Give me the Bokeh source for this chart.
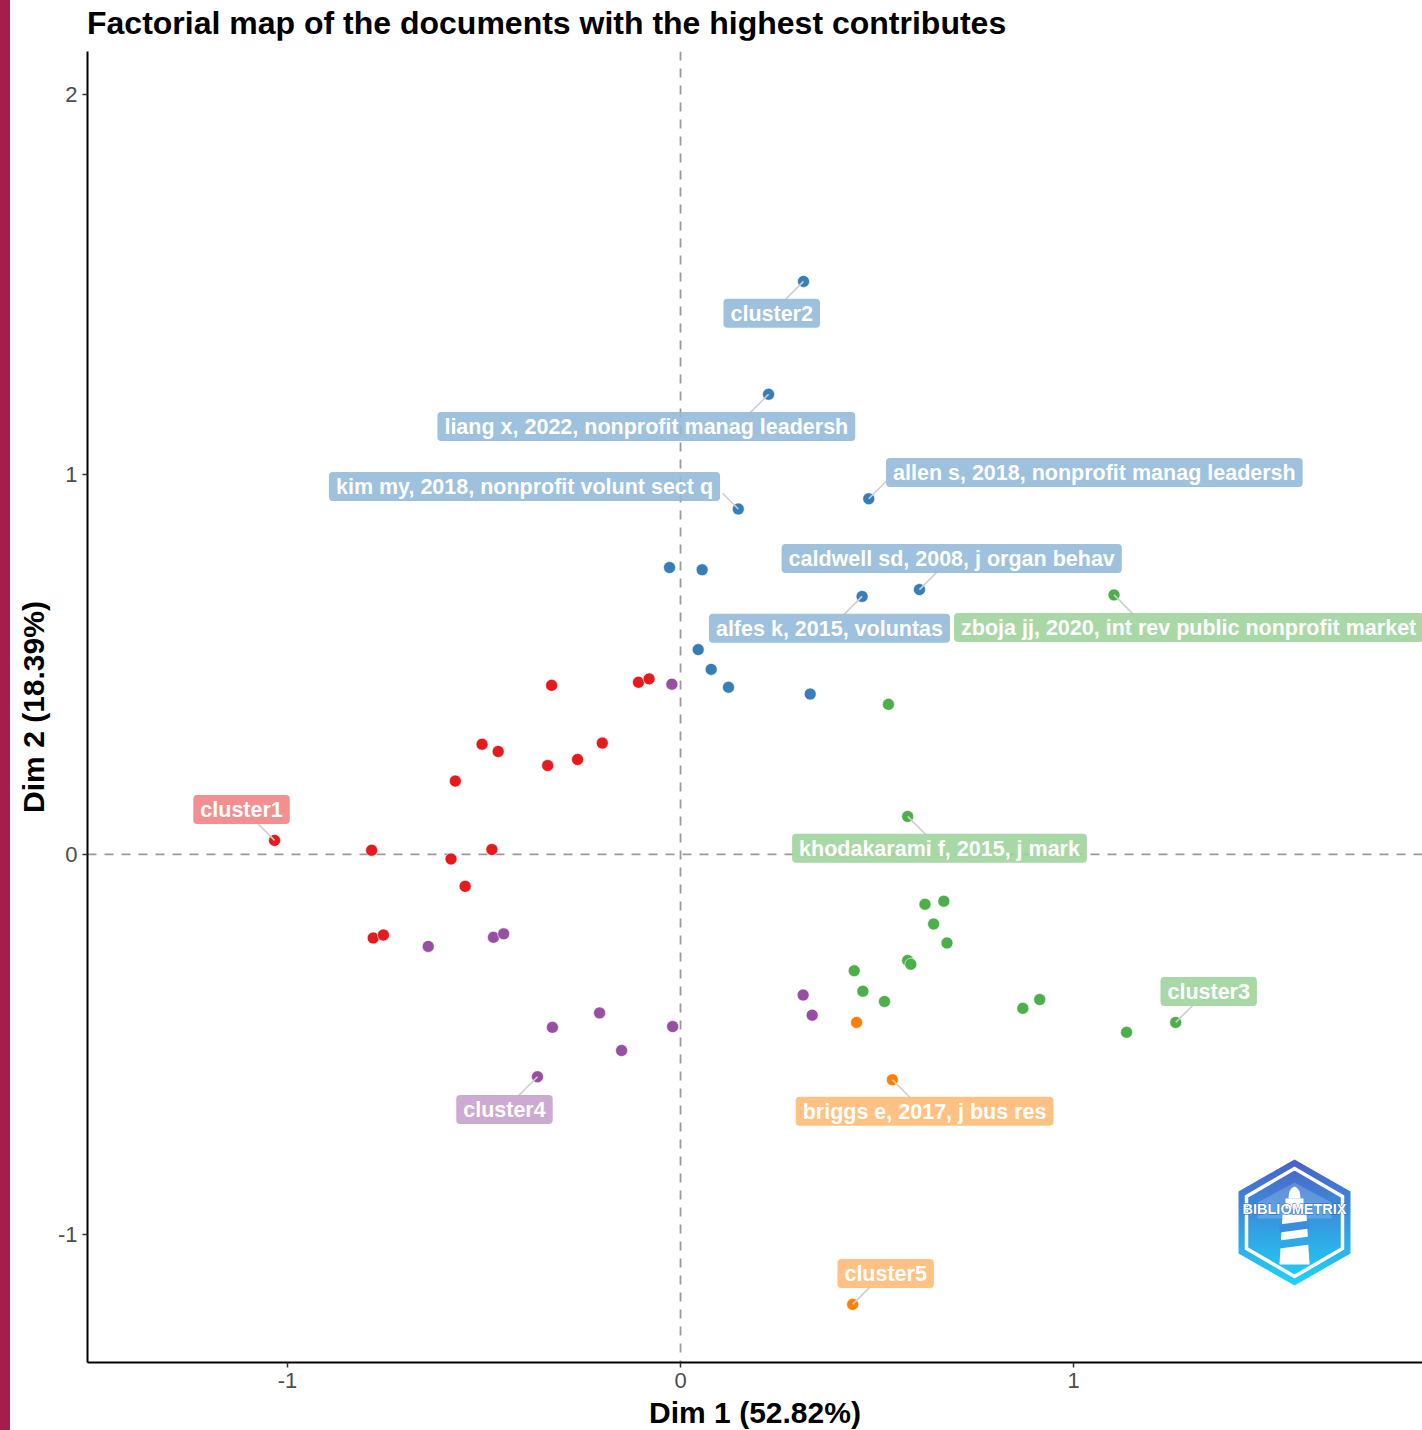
import base64
from bokeh.plotting import figure
from bokeh.models import Range1d, Span, ColumnDataSource, FixedTicker, Div, PrintfTickFormatter
from bokeh.layouts import row, column
from bokeh.embed import file_html
from bokeh.resources import INLINE
from bokeh.core.properties import value

# ---------------- data ----------------
c1_x = [-1.033, -0.786, -0.584, -0.480, -0.548, -0.782, -0.756, -0.573, -0.505, -0.464, -0.338, -0.262, -0.199, -0.328, -0.107, -0.080]
c1_y = [0.037, 0.011, -0.012, 0.013, -0.084, -0.220, -0.212, 0.193, 0.290, 0.271, 0.234, 0.250, 0.293, 0.445, 0.453, 0.462]

c2_x = [0.313, 0.224, 0.147, 0.479, -0.028, 0.055, 0.608, 0.462, 0.045, 0.078, 0.122, 0.330]
c2_y = [1.508, 1.211, 0.909, 0.936, 0.755, 0.749, 0.697, 0.679, 0.539, 0.487, 0.440, 0.422]

c3_x = [1.103, 0.529, 0.578, 0.622, 0.670, 0.644, 0.678, 0.578, 0.586, 0.442, 0.464, 0.519, 0.871, 0.914, 1.135, 1.260]
c3_y = [0.683, 0.395, 0.100, -0.131, -0.123, -0.183, -0.233, -0.279, -0.289, -0.306, -0.360, -0.387, -0.405, -0.382, -0.468, -0.442]

c4_x = [-0.022, -0.642, -0.476, -0.450, -0.326, -0.206, -0.020, -0.150, -0.364, 0.312, 0.335]
c4_y = [0.448, -0.242, -0.218, -0.209, -0.455, -0.417, -0.453, -0.516, -0.585, -0.370, -0.423]

c5_x = [0.448, 0.539, 0.438]
c5_y = [-0.442, -0.593, -1.184]

cluster_names = ["cluster1", "cluster2", "cluster3", "cluster4", "cluster5"]

# labels: text, cluster number, index of the labelled point, label centre
label_text = ["cluster1", "cluster2", "liang x, 2022, nonprofit manag leadersh",
              "kim my, 2018, nonprofit volunt sect q", "allen s, 2018, nonprofit manag leadersh",
              "caldwell sd, 2008, j organ behav", "alfes k, 2015, voluntas",
              "zboja jj, 2020, int rev public nonprofit market", "khodakarami f, 2015, j mark",
              "cluster3", "cluster4", "briggs e, 2017, j bus res", "cluster5"]
label_cluster = [1, 2, 2, 2, 2, 2, 2, 3, 3, 3, 4, 5, 5]
label_point = [0, 0, 1, 2, 3, 6, 7, 0, 2, 15, 8, 1, 2]
label_x = [-1.117, 0.232, -0.087, -0.397, 1.053, 0.690, 0.379, 1.293, 0.659, 1.344, -0.448, 0.621, 0.522]
label_y = [0.118, 1.424, 1.126, 0.968, 1.005, 0.779, 0.595, 0.597, 0.016, -0.361, -0.671, -0.676, -1.103]

x_ticks = [-1, 0, 1]
y_ticks = [-1, 0, 1, 2]
x_label = "Dim 1 (52.82%)"
y_label = "Dim 2 (18.39%)"
title = "Factorial map of the documents with the highest contributes"

# ---------------- style ----------------
colors = ["#E41A1C", "#377EB8", "#4DAF4A", "#984EA3", "#FF7F00"]
FONT = "Liberation Sans"
FRAME_W, FRAME_H = 1335, 1311
X0, X1 = -1.509, 1.888
Y0, Y1 = -1.337, 2.113
BAR_W = 10
TITLE_H = 40


def lighten(hexcol, a):
    r, g, b = int(hexcol[1:3], 16), int(hexcol[3:5], 16), int(hexcol[5:7], 16)
    f = lambda c: int(round(255 * (1 - a) + c * a))
    return "#%02x%02x%02x" % (f(r), f(g), f(b))


p = figure(width=1422 - BAR_W, height=1430 - TITLE_H, frame_width=FRAME_W, frame_height=FRAME_H,
           x_range=Range1d(X0, X1), y_range=Range1d(Y0, Y1),
           output_backend="svg", toolbar_location=None,
           min_border_left=87 - BAR_W, min_border_right=0, min_border_top=51 - TITLE_H,
           min_border_bottom=68)
p.outline_line_color = None
p.xgrid.visible = False
p.ygrid.visible = False
p.background_fill_color = "white"
p.border_fill_color = "white"

for ax, lab in ((p.xaxis[0], x_label), (p.yaxis[0], y_label)):
    ax.axis_label = lab
    ax.axis_label_text_font = FONT
    ax.axis_label_text_font_size = "30px"
    ax.axis_label_text_font_style = "bold"
    ax.axis_label_text_color = "black"
    ax.axis_line_color = "black"
    ax.axis_line_width = 2
    ax.major_tick_line_color = "#333333"
    ax.major_tick_line_width = 1.5
    ax.major_tick_out = 5
    ax.major_tick_in = 0
    ax.minor_tick_line_color = None
    ax.major_label_text_font = FONT
    ax.major_label_text_font_size = "22px"
    ax.major_label_text_color = "#4D4D4D"
    ax.major_label_standoff = 5
    ax.axis_label_standoff = 5
    ax.formatter = PrintfTickFormatter(format="%d")
p.xaxis[0].ticker = FixedTicker(ticks=x_ticks)
p.yaxis[0].ticker = FixedTicker(ticks=y_ticks)

# reference lines at 0 (under everything)
for dim in ("height", "width"):
    p.add_layout(Span(location=0, dimension=dim, line_color="#9a9a9a", line_width=1.8,
                      line_dash="9 8", level="underlay"))

# points
all_x = [c1_x, c2_x, c3_x, c4_x, c5_x]
all_y = [c1_y, c2_y, c3_y, c4_y, c5_y]
for xs, ys, col in zip(all_x, all_y, colors):
    p.scatter(xs, ys, size=12, fill_color=col, line_color="white", line_width=0.6)

# label segments: diagonal from the point until it meets the label box
px_per_x = FRAME_W / (X1 - X0)
px_per_y = FRAME_H / (Y1 - Y0)
sx0, sy0, sx1, sy1 = [], [], [], []
for t, c, i, lx, ly in zip(label_text, label_cluster, label_point, label_x, label_y):
    ptx, pty = all_x[c - 1][i], all_y[c - 1][i]
    dxp = (lx - ptx) * px_per_x
    dyp = (ly - pty) * px_per_y
    half_w = len(t) * 10.3 / 2 + 7.5
    half_h = 13.5
    d = max(max(0.0, abs(dxp) - half_w), max(0.0, abs(dyp) - half_h))
    ex = ptx + (1 if dxp > 0 else -1) * d / px_per_x
    ey = pty + (1 if dyp > 0 else -1) * d / px_per_y
    sx0.append(ptx)
    sy0.append(pty)
    sx1.append(ex)
    sy1.append(ey)
p.segment(sx0, sy0, sx1, sy1, line_color="#cfcfcf", line_width=1.6)

# labels
lsrc = ColumnDataSource(dict(x=label_x, y=label_y, text=label_text,
                             fill=[lighten(colors[c - 1], 0.55) for c in label_cluster]))
p.text(x="x", y="y", text="text", source=lsrc, text_font=value(FONT), text_font_style="bold",
       text_font_size="21.5px", text_color="white", text_align="center", text_baseline="middle",
       background_fill_color="fill", background_fill_alpha=0.88, border_radius=4,
       padding=dict(left=7, right=7, top=3, bottom=2))

# bibliometrix logo
svg = """<svg xmlns="http://www.w3.org/2000/svg" width="114" height="128" viewBox="0 0 114 128">
<defs><linearGradient id="g" x1="0" y1="0" x2="0" y2="1">
<stop offset="0" stop-color="#4C5FC6"/><stop offset="1" stop-color="#1FD3F7"/></linearGradient></defs>
<polygon points="57,1 113,33 113,95 57,127 1,95 1,33" fill="url(#g)"/>
<polygon points="57,10 105,38 105,90 57,118 9,90 9,38" fill="none" stroke="white" stroke-width="3.5"/>
<polygon points="20,44 57,24 94,44 94,60 20,60" fill="white" fill-opacity="0.18"/>
<path d="M51,40 Q51,30 57,28 Q63,30 63,40 Z" fill="white"/>
<rect x="48" y="40" width="18" height="10" fill="white"/>
<polygon points="45,56 69,56 72,106 42,106" fill="white"/>
<polygon points="42,66 72,62 72,70 42,74" fill="#3A8EE0"/>
<polygon points="42,82 72,78 72,86 42,90" fill="#2FA8EA"/>
<text x="57" y="55" font-family="Liberation Sans" font-weight="bold" font-size="15" fill="white"
 stroke="#2A64C8" stroke-width="0.8" paint-order="stroke" text-anchor="middle" textLength="104" lengthAdjust="spacingAndGlyphs">BIBLIOMETRIX</text>
</svg>"""
uri = "data:image/svg+xml;base64," + base64.b64encode(svg.encode()).decode()
logo_x = X0 + (1294 - 87) / px_per_x
logo_y = Y1 - (1222 - 51) / px_per_y
p.image_url(url=[uri], x=logo_x, y=logo_y, w=114, h=128, w_units="screen", h_units="screen",
            anchor="center")

title_div = Div(
    text=('<div style="position:relative; left:%dpx; top:7px; font-family:\'Liberation Sans\';'
          ' font-size:32px; font-weight:bold; line-height:32px; color:black; white-space:nowrap;">%s</div>'
          % (87 - BAR_W, title)),
    width=1422 - BAR_W, height=TITLE_H, margin=0)
bar = Div(text="", width=BAR_W, height=1430, margin=0, styles={"background-color": "#A51D4B"})
layout = row(bar, column(title_div, p, spacing=0), spacing=0)

open("out.html", "w").write(file_html(layout, INLINE))
